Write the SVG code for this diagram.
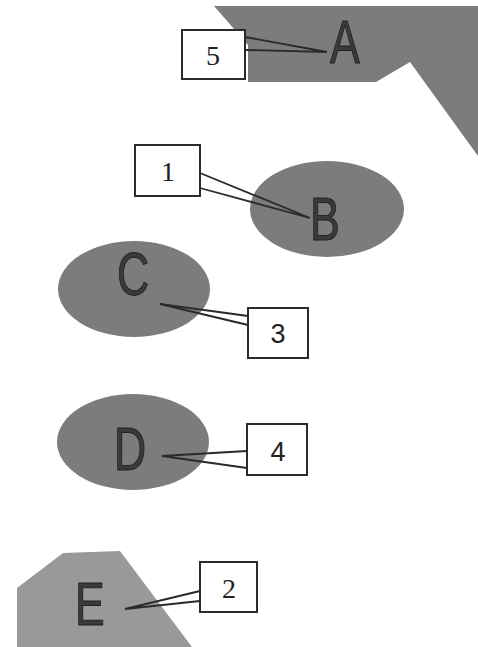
<svg xmlns="http://www.w3.org/2000/svg" width="478" height="647" viewBox="0 0 478 647">
  <style>
    .shape { fill: #7c7c7c; }
    .shape-light { fill: #999999; }
    .letter { font-family: "Liberation Sans", Arial, sans-serif; font-size: 62px; fill: #3a3a3a; stroke: #222; stroke-width: 1; text-anchor: middle; }
    .box { fill: #ffffff; stroke: #2a2a2a; stroke-width: 2; }
    .num-serif { font-family: "Liberation Serif", "Times New Roman", serif; font-size: 28px; fill: #222; text-anchor: middle; }
    .num-sans { font-family: "Liberation Sans", Arial, sans-serif; font-size: 27px; fill: #222; text-anchor: middle; }
    .lead { fill: none; stroke: #2a2a2a; stroke-width: 1.8; stroke-linejoin: miter; }
  </style>
  <rect width="478" height="647" fill="#ffffff"/>

  <!-- shapes -->
  <g id="node-A">
    <polygon class="shape" points="214,6 478,6 478,156 410,62 376,82 248,82 248,45"/>
    <text class="letter" transform="translate(345,63) scale(0.72,1)">A</text>
  </g>
  <g id="node-B">
    <ellipse class="shape" cx="327" cy="209" rx="77" ry="48"/>
    <text class="letter" transform="translate(325,240) scale(0.72,1)">B</text>
  </g>
  <g id="node-C">
    <ellipse class="shape" cx="134" cy="289" rx="76" ry="48"/>
    <text class="letter" transform="translate(133,295) scale(0.72,1)">C</text>
  </g>
  <g id="node-D">
    <ellipse class="shape" cx="133" cy="442" rx="76" ry="48"/>
    <text class="letter" transform="translate(130,470) scale(0.72,1)">D</text>
  </g>
  <g id="node-E">
    <polygon class="shape-light" points="17,588 63,553 120,551 192,647 17,647"/>
    <text class="letter" transform="translate(90,625) scale(0.72,1)">E</text>
  </g>

  <!-- leader lines from the number boxes -->
  <g id="connectors">
    <polyline class="lead" points="245,37 327,52 245,50"/>
    <polyline class="lead" points="200,173 310,218 200,188"/>
    <polyline class="lead" points="248,316 160,304 248,325"/>
    <polyline class="lead" points="247,451 162,456 247,468"/>
    <polyline class="lead" points="200,591 125,609 200,601"/>
  </g>

  <!-- number boxes -->
  <g id="label-5">
    <rect class="box" x="182" y="30" width="63" height="49"/>
    <text class="num-serif" x="213" y="65">5</text>
  </g>
  <g id="label-1">
    <rect class="box" x="135" y="145" width="65" height="51"/>
    <text class="num-serif" x="168" y="181">1</text>
  </g>
  <g id="label-3">
    <rect class="box" x="248" y="308" width="60" height="50"/>
    <text class="num-sans" x="278" y="343">3</text>
  </g>
  <g id="label-4">
    <rect class="box" x="247" y="424" width="60" height="51"/>
    <text class="num-sans" x="278" y="461">4</text>
  </g>
  <g id="label-2">
    <rect class="box" x="200" y="562" width="57" height="50"/>
    <text class="num-serif" x="229" y="598">2</text>
  </g>
</svg>
